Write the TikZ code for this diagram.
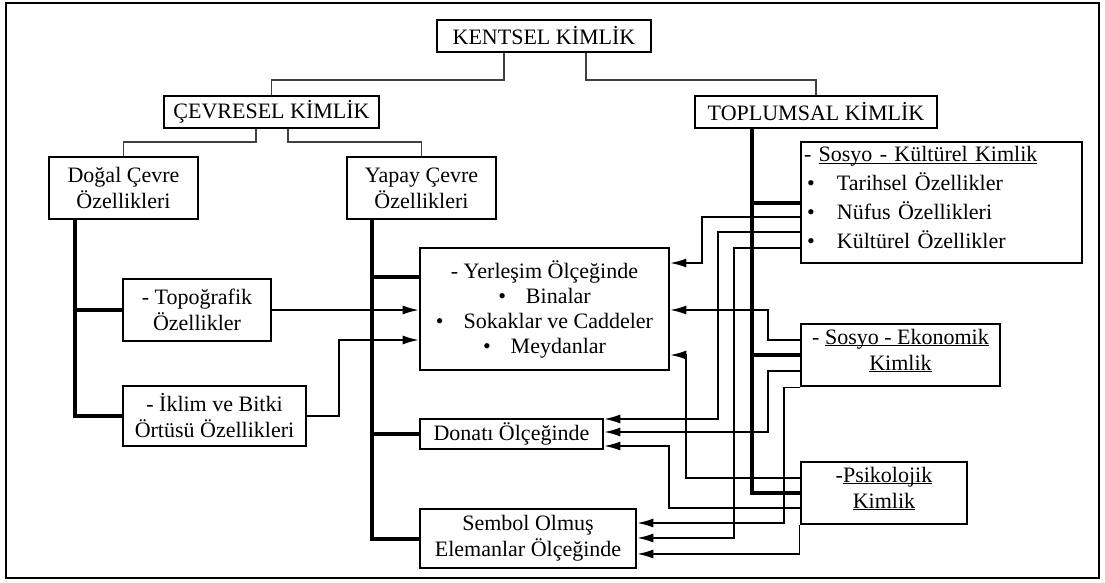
\documentclass[tikz,border=0pt]{standalone}
\usepackage{fontspec}
\setmainfont{Liberation Serif}
\usetikzlibrary{arrows.meta}
\newcommand{\myul}[1]{\underline{\smash{#1}}}
\begin{document}
\begin{tikzpicture}[x=1pt,y=-1pt,
  box/.style={draw, line width=2.6pt, inner sep=2pt, align=center, font=\fontsize{22}{26}\selectfont},
  conn/.style={line width=1.5pt},
  arr/.style={conn, -{Latex[length=16pt,width=9pt]}},
  trunk/.style={line width=4pt},
  toplink/.style={line width=1.7pt, black!75}]
\useasboundingbox (0,0) rectangle (1105,583);
\draw[line width=1.8pt] (6,3) rectangle (1099,578);

\node[box, minimum width=214pt, minimum height=32pt] (K) at (544,36) {KENTSEL KİMLİK};
\node[box, minimum width=215pt, minimum height=32pt] (C) at (271.5,112) {ÇEVRESEL KİMLİK};
\node[box, minimum width=242pt, minimum height=32pt] (T) at (816,112) {TOPLUMSAL KİMLİK};
\node[box, minimum width=149pt, minimum height=62pt] (D) at (123.5,188) {Doğal Çevre\\Özellikleri};
\node[box, minimum width=149pt, minimum height=62pt] (Y) at (421.5,188) {Yapay Çevre\\Özellikleri};
\node[box, minimum width=281pt, minimum height=121pt, text width=275pt, align=left, inner sep=3pt, font=\fontsize{22}{29}\selectfont] (SK) at (941.5,202.5)
  {- \myul{Sosyo - Kültürel Kimlik}\\
   \hspace*{3pt}\makebox[30pt][l]{\textbullet}Tarihsel Özellikler\\
   \hspace*{3pt}\makebox[30pt][l]{\textbullet}Nüfus Özellikleri\\
   \hspace*{3pt}\makebox[30pt][l]{\textbullet}Kültürel Özellikler};
\node[box, minimum width=148pt, minimum height=62pt] (TP) at (197,310) {- Topoğrafik\\Özellikler};
\node[box, minimum width=183pt, minimum height=60pt] (IK) at (214.5,416) {- İklim ve Bitki\\Örtüsü Özellikleri};
\node[box, minimum width=249pt, minimum height=122pt, font=\fontsize{22}{25}\selectfont] (YL) at (544.5,309)
  {- Yerleşim Ölçeğinde\\
   \textbullet\hspace{20pt}Binalar\\
   \textbullet\hspace{20pt}Sokaklar ve Caddeler\\
   \textbullet\hspace{20pt}Meydanlar};
\node[box, minimum width=199pt, minimum height=62pt] (SE) at (900.5,355) {- \myul{Sosyo - Ekonomik}\\\myul{Kimlik}};
\node[box, minimum width=183pt, minimum height=30pt] (DN) at (511.5,434) {Donatı Ölçeğinde};
\node[box, minimum width=166pt, minimum height=62pt] (PS) at (884,493) {-\myul{Psikolojik}\\\myul{Kimlik}};
\node[box, minimum width=216pt, minimum height=59pt] (SB) at (528,538.5) {Sembol Olmuş\\Elemanlar Ölçeğinde};

% top hierarchy
\draw[toplink] (K.south -| 504,0) -- (504,80) -| (C.north);
\draw[toplink] (K.south -| 586,0) -- (586,80) -| (T.north);
\draw[toplink] (C.south -| 256,0) -- (256,142) -| (D.north);
\draw[toplink] (C.south -| 288,0) -- (288,142) -| (Y.north);

% trunks
\draw[trunk] (D.south -| 75,0) |- (IK.west);
\draw[trunk] (TP.west -| 75,0) -- (TP.west);
\draw[trunk] (Y.south -| 372,0) |- (SB.west);
\draw[trunk] (DN.west -| 372,0) -- (DN.west);
\draw[trunk] (YL.west |- 0,277) -- (372,277);
\draw[trunk] (T.south -| 752,0) |- (PS.west);
\draw[trunk] (SK.west -| 752,0) -- (SK.west);
\draw[trunk] (SE.west -| 752,0) -- (SE.west);

% arrows
\draw[arr] (TP.east) -- (TP.east -| YL.west);
\draw[arr] (IK.east) -| (339,340) -- (YL.west |- 0,340);
\draw[arr] (SK.west |- 0,217) -| (702,263) -- (YL.east |- 0,263);
\draw[arr] (SK.west |- 0,232) -| (718,419) -- (DN.east |- 0,419);
\draw[arr] (SK.west |- 0,248) -| (734,538) -- (SB.east |- 0,538);
\draw[arr] (SE.west |- 0,340) -| (768,310) -- (YL.east |- 0,310);
\draw[arr] (SE.west |- 0,371) -| (768,432) -- (DN.east |- 0,432);
\draw[arr] (SE.south west) -| (784,523) -- (SB.east |- 0,523);
\draw[arr] (PS.west |- 0,478) -| (686,355) -- (YL.east |- 0,355);
\draw[arr] (PS.west |- 0,508) -| (669,446) -- (DN.east |- 0,446);
\draw[arr] (PS.south west) -- (PS.south west |- 0,554) -- (SB.east |- 0,554);
\end{tikzpicture}
\end{document}
